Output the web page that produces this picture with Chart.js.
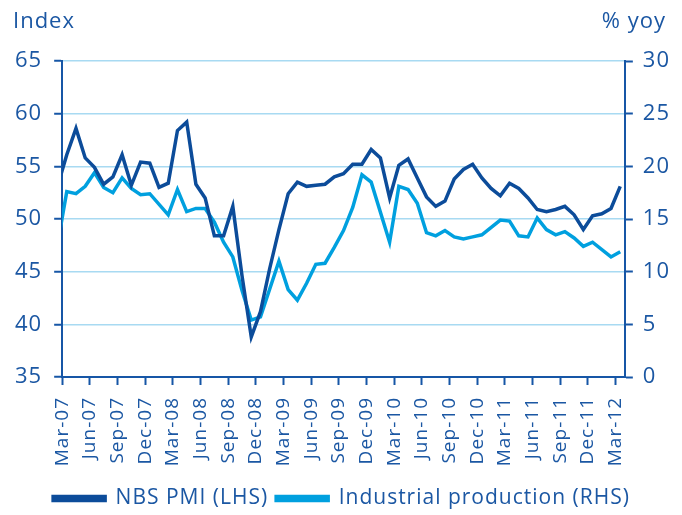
<!DOCTYPE html>
<html>
<head>
<meta charset="utf-8">
<script src="https://cdn.jsdelivr.net/npm/chart.js@4.4.0/dist/chart.umd.min.js"></script>
<style>
  html, body { margin: 0; padding: 0; background: #ffffff; }
  #wrap { width: 682px; height: 515px; position: relative; }
</style>
</head>
<body>
<div id="wrap"><canvas id="chart"></canvas></div>
<script>
// Months Feb-07 .. Mar-12 (Feb-07 sits just left of the axis and gets clipped)
const months = [
    'Feb-07', 'Mar-07', 'Apr-07', 'May-07', 'Jun-07', 'Jul-07', 'Aug-07', 'Sep-07', 'Oct-07', 'Nov-07', 'Dec-07',
    'Jan-08', 'Feb-08', 'Mar-08', 'Apr-08', 'May-08', 'Jun-08', 'Jul-08', 'Aug-08', 'Sep-08', 'Oct-08', 'Nov-08', 'Dec-08',
    'Jan-09', 'Feb-09', 'Mar-09', 'Apr-09', 'May-09', 'Jun-09', 'Jul-09', 'Aug-09', 'Sep-09', 'Oct-09', 'Nov-09', 'Dec-09',
    'Jan-10', 'Feb-10', 'Mar-10', 'Apr-10', 'May-10', 'Jun-10', 'Jul-10', 'Aug-10', 'Sep-10', 'Oct-10', 'Nov-10', 'Dec-10',
    'Jan-11', 'Feb-11', 'Mar-11', 'Apr-11', 'May-11', 'Jun-11', 'Jul-11', 'Aug-11', 'Sep-11', 'Oct-11', 'Nov-11', 'Dec-11',
    'Jan-12', 'Feb-12', 'Mar-12'
];

// NBS PMI (LHS, index)
const pmi = [
    53.1, 56.1, 58.6, 55.8, 54.9, 53.3, 54.0, 56.1, 53.2, 55.4, 55.3,
    53.0, 53.4, 58.4, 59.2, 53.3, 52.0, 48.4, 48.4, 51.2, 44.6, 38.8, 41.2,
    45.3, 49.0, 52.4, 53.5, 53.1, 53.2, 53.3, 54.0, 54.3, 55.2, 55.2, 56.6,
    55.8, 52.0, 55.1, 55.7, 53.9, 52.1, 51.2, 51.7, 53.8, 54.7, 55.2, 53.9,
    52.9, 52.2, 53.4, 52.9, 52.0, 50.9, 50.7, 50.9, 51.2, 50.4, 49.0, 50.3,
    50.5, 51.0, 53.1
];

// Industrial production (RHS, % yoy) - no January prints
const industrial = [
    12.6, 17.6, 17.4, 18.1, 19.4, 18.0, 17.5, 18.9, 17.9, 17.3, 17.4,
    null, 15.4, 17.8, 15.7, 16.0, 16.0, 14.7, 12.8, 11.4, 8.2, 5.4, 5.7,
    null, 11.0, 8.3, 7.3, 8.9, 10.7, 10.8, 12.3, 13.9, 16.1, 19.2, 18.5,
    null, 12.8, 18.1, 17.8, 16.5, 13.7, 13.4, 13.9, 13.3, 13.1, 13.3, 13.5,
    null, 14.9, 14.8, 13.4, 13.3, 15.1, 14.0, 13.5, 13.8, 13.2, 12.4, 12.8,
    null, 11.4, 11.9
];

// quarterly tick positions (category boundaries), labelled Mar-07, Jun-07, ...
const tickPositions = [];
for (let v = 0.5; v <= 60.5; v += 3) tickPositions.push(v);

const TEXT = '#1b57a3';
const AXIS = '#1656a6';
const GRID = '#a8daf2';
const FONT = 'Open Sans';

// slightly spaced lettering like the original
const spacing = {
    id: 'spacing',
    beforeLayout(chart) { chart.ctx.letterSpacing = '1px'; },
    beforeDraw(chart) { chart.ctx.letterSpacing = '1px'; }
};

// axis headers above each y axis
const headers = {
    id: 'headers',
    afterDraw(chart) {
        const ctx = chart.ctx;
        ctx.save();
        ctx.fillStyle = TEXT;
        ctx.font = '22px "' + FONT + '"';
        ctx.textBaseline = 'alphabetic';
        ctx.textAlign = 'left';
        ctx.fillText('Index', 13, 28);
        ctx.textAlign = 'right';
        ctx.fillText('% yoy', 666, 28);
        ctx.restore();
    }
};

new Chart(document.getElementById('chart'), {
    type: 'line',
    data: {
        datasets: [
            {
                label: 'NBS PMI (LHS)',
                data: pmi.map((v, i) => ({ x: i, y: v })),
                borderColor: '#0c4c9a',
                backgroundColor: '#0c4c9a',
                borderWidth: 3.5,
                pointRadius: 0,
                tension: 0,
                yAxisID: 'y'
            },
            {
                label: 'Industrial production (RHS)',
                data: industrial.map((v, i) => ({ x: i, y: v })),
                borderColor: '#00a0df',
                backgroundColor: '#00a0df',
                borderWidth: 3.5,
                pointRadius: 0,
                tension: 0,
                spanGaps: true,
                yAxisID: 'y1'
            }
        ]
    },
    options: {
        responsive: true,
        maintainAspectRatio: false,
        animation: false,
        layout: {
            padding: { top: 61, left: 3, right: 2, bottom: -4 }
        },
        scales: {
            x: {
                type: 'linear',
                min: 0.5,
                max: 61.5,
                afterBuildTicks(scale) {
                    scale.ticks = tickPositions.map(v => ({ value: v }));
                },
                afterFit(scale) {
                    scale.height = 103;
                },
                grid: {
                    drawOnChartArea: false,
                    tickLength: 8,
                    tickColor: AXIS,
                    tickWidth: 2
                },
                border: { color: AXIS, width: 2 },
                ticks: {
                    autoSkip: false,
                    minRotation: 90,
                    maxRotation: 90,
                    padding: 12,
                    color: TEXT,
                    font: { family: FONT, size: 19 },
                    callback: value => months[Math.round(value + 0.5)]
                }
            },
            y: {
                position: 'left',
                min: 35,
                max: 65,
                ticks: {
                    stepSize: 5,
                    padding: 12,
                    color: TEXT,
                    font: { family: FONT, size: 22 }
                },
                grid: {
                    color: GRID,
                    lineWidth: 1.5,
                    tickLength: 8,
                    tickColor: AXIS,
                    tickWidth: 2
                },
                border: { color: AXIS, width: 2 }
            },
            y1: {
                position: 'right',
                min: 0,
                max: 30,
                ticks: {
                    stepSize: 5,
                    padding: 10,
                    color: TEXT,
                    font: { family: FONT, size: 22 }
                },
                grid: {
                    drawOnChartArea: false,
                    tickLength: 8,
                    tickColor: AXIS,
                    tickWidth: 2
                },
                border: { color: AXIS, width: 2 }
            }
        },
        plugins: {
            legend: {
                display: true,
                position: 'bottom',
                labels: {
                    boxWidth: 52,
                    boxHeight: 4,
                    padding: 8,
                    color: TEXT,
                    font: { family: FONT, size: 21 }
                }
            },
            tooltip: { enabled: false }
        }
    },
    plugins: [spacing, headers]
});
</script>
</body>
</html>
